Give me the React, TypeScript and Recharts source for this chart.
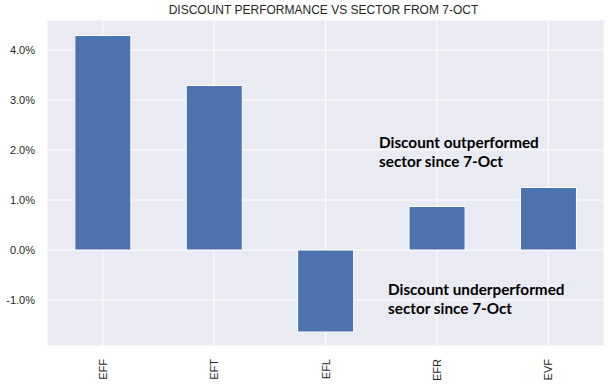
import React from "react";
import { BarChart, Bar, XAxis, YAxis, CartesianGrid } from "recharts";

const categories = ["EFF", "EFT", "EFL", "EFR", "EVF"];
const discountPerf = [4.29, 3.29, -1.64, 0.87, 1.25];
const yTicks = [-1, 0, 1, 2, 3, 4];
const title = "DISCOUNT PERFORMANCE VS SECTOR FROM 7-OCT";
const noteUp = ["Discount outperformed", "sector since 7-Oct"];
const noteDown = ["Discount underperformed", "sector since 7-Oct"];

const data = categories.map((c, i) => ({ name: c, value: discountPerf[i] }));

const XTick = (props: any) => {
  const { x, y, payload } = props;
  const ty = y + 5;
  return (
    <text
      x={x}
      y={ty}
      transform={`rotate(-90, ${x}, ${ty})`}
      textAnchor="end"
      dominantBaseline="central"
      fontSize={11}
      fill="#262626"
      fontFamily="'Liberation Sans', Arial, sans-serif"
    >
      {payload.value}
    </text>
  );
};

export default function App() {
  React.useEffect(() => {
    document.body.style.margin = "0";
  }, []);
  const noteStyle: React.CSSProperties = {
    position: "absolute",
    fontFamily: "Lato, sans-serif",
    fontWeight: 700,
    fontSize: 15.3,
    lineHeight: "19px",
    color: "#000",
    whiteSpace: "nowrap",
  };
  return (
    <div style={{ position: "relative", width: 616, height: 385, background: "#fff" }}>
      <div
        style={{
          position: "absolute",
          top: 3,
          left: 0,
          width: 647,
          textAlign: "center",
          fontFamily: "'Liberation Sans', Arial, sans-serif",
          fontSize: 12,
          color: "#262626",
          lineHeight: "14px",
        }}
      >
        {title}
      </div>
      <BarChart
        width={616}
        height={385}
        data={data}
        margin={{ top: 20, right: 12, bottom: 0, left: 0 }}
        barCategoryGap="25%"
      >
        <CartesianGrid fill="#EAEAF2" stroke="#ffffff" strokeWidth={1} />
        <XAxis
          dataKey="name"
          axisLine={false}
          tickLine={false}
          height={39}
          tick={<XTick />}
          interval={0}
        />
        <YAxis
          type="number"
          domain={[-1.92, 4.6]}
          ticks={yTicks}
          axisLine={false}
          tickLine={false}
          tickSize={0}
          tickMargin={12}
          width={47}
          allowDataOverflow
          tickFormatter={(v: number) => `${v.toFixed(1)}%`}
          tick={{ fontSize: 11, fill: "#262626", fontFamily: "'Liberation Sans', Arial, sans-serif" }}
        />
        <Bar dataKey="value" fill="#4C72B0" stroke="#ffffff" strokeWidth={1} isAnimationActive={false} />
      </BarChart>
      <div style={{ ...noteStyle, left: 379, top: 133 }}>
        {noteUp[0]}
        <br />
        {noteUp[1]}
      </div>
      <div style={{ ...noteStyle, left: 388, top: 280 }}>
        {noteDown[0]}
        <br />
        {noteDown[1]}
      </div>
    </div>
  );
}
